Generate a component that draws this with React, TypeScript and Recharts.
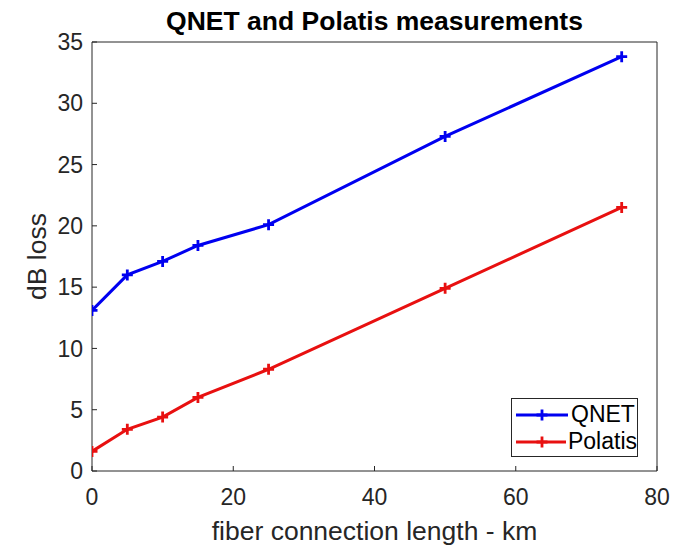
import React from "react";
import { LineChart, Line, XAxis, YAxis, Legend } from "recharts";

// fiber length (km) and measured loss (dB)
const distanceKm = [0, 5, 10, 15, 25, 50, 75];
const qnetLoss = [13.1, 16.0, 17.1, 18.4, 20.1, 27.3, 33.8];
const polatisLoss = [1.6, 3.4, 4.4, 6.0, 8.3, 14.9, 21.5];

const xTicks = [0, 20, 40, 60, 80];
const yTicks = [0, 5, 10, 15, 20, 25, 30, 35];
const seriesNames = ["QNET", "Polatis"];
const seriesKeys = ["qnet", "polatis"];
const seriesColors = ["#0000f0", "#e81010"];

const data = distanceKm.map((km, i) => ({
  km,
  qnet: qnetLoss[i],
  polatis: polatisLoss[i],
}));

const AXIS = "#262626";
const FONT = "'Liberation Sans', Arial, Helvetica, sans-serif";

// MATLAB style "+" marker
const plusDot = (color: string) => (props: any) => {
  const { cx, cy, index } = props;
  if (cx == null || cy == null) return <g key={index} />;
  return (
    <path
      key={index}
      d={`M${cx - 5.5} ${cy}H${cx + 5.5}M${cx} ${cy - 5.5}V${cy + 5.5}`}
      stroke={color}
      strokeWidth={2.8}
      fill="none"
    />
  );
};

const renderLegend = () => (
  <div
    style={{
      border: `1px solid ${AXIS}`,
      background: "#fff",
      width: 127,
      height: 59,
      boxSizing: "border-box",
      padding: "2px 0 0 3px",
      fontFamily: FONT,
    }}
  >
    {seriesNames.map((name, i) => (
      <div key={name} style={{ display: "flex", alignItems: "center", height: 27 }}>
        <svg width={54} height={14} style={{ display: "block" }}>
          <line x1={1} y1={7} x2={53} y2={7} stroke={seriesColors[i]} strokeWidth={3} />
          <path d="M27 1.5V12.5M21.5 7H32.5" stroke={seriesColors[i]} strokeWidth={2.8} />
        </svg>
        <span style={{ fontSize: 23, marginLeft: 2, color: "#000", lineHeight: "27px" }}>{name}</span>
      </div>
    ))}
  </div>
);

const YLabel = (props: any) => {
  const vb = props.viewBox || { x: 0, y: 0, width: 0, height: 0 };
  const x = vb.x + 37;
  const y = vb.y + vb.height / 2;
  return (
    <text
      x={x}
      y={y}
      transform={`rotate(-90 ${x} ${y})`}
      textAnchor="middle"
      dominantBaseline="central"
      fill={AXIS}
      fontSize={26.5}
      fontFamily={FONT}
    >
      dB loss
    </text>
  );
};

export default function App() {
  return (
    <div
      style={{
        position: "absolute",
        left: 0,
        top: 0,
        width: 674,
        height: 547,
        background: "#fff",
        fontFamily: FONT,
      }}
    >
      <div
        style={{
          position: "absolute",
          top: 8,
          left: 92,
          width: 565,
          textAlign: "center",
          fontSize: 26.5,
          lineHeight: "26px",
          fontWeight: "bold",
          color: "#000",
          zIndex: 2,
        }}
      >
        QNET and Polatis measurements
      </div>
      <LineChart
        width={674}
        height={547}
        data={data}
        margin={{ top: 42, right: 17, left: 0, bottom: 0 }}
      >
        <XAxis
          dataKey="km"
          type="number"
          domain={[0, 80]}
          ticks={xTicks}
          allowDataOverflow
          height={76}
          axisLine={{ stroke: AXIS }}
          tickLine={{ stroke: AXIS }}
          tickSize={-5}
          tickMargin={23}
          tick={{ fill: AXIS, fontSize: 23 }}
          label={{
            value: "fiber connection length - km",
            position: "insideBottom",
            offset: 7,
            fill: AXIS,
            fontSize: 26.5,
          }}
        />
        <XAxis
          xAxisId="top"
          orientation="top"
          type="number"
          domain={[0, 80]}
          ticks={xTicks}
          allowDataOverflow
          mirror
          tick={false}
          tickSize={5}
          axisLine={{ stroke: AXIS }}
          tickLine={{ stroke: AXIS }}
        />
        <YAxis
          type="number"
          domain={[0, 35]}
          ticks={yTicks}
          allowDataOverflow
          width={92}
          axisLine={{ stroke: AXIS }}
          tickLine={{ stroke: AXIS }}
          tickSize={-5}
          tickMargin={14}
          tick={{ fill: AXIS, fontSize: 23 }}
          label={{ content: YLabel }}
        />
        <YAxis
          yAxisId="right"
          orientation="right"
          type="number"
          domain={[0, 35]}
          ticks={yTicks}
          allowDataOverflow
          mirror
          tick={false}
          tickSize={5}
          axisLine={{ stroke: AXIS }}
          tickLine={{ stroke: AXIS }}
        />
        <Legend
          layout="vertical"
          align="center"
          verticalAlign="middle"
          content={renderLegend}
          wrapperStyle={{ left: 511, top: 398, width: 127, height: 59 }}
        />
        {seriesKeys.map((key, i) => (
          <Line
            key={key}
            dataKey={key}
            name={seriesNames[i]}
            type="linear"
            stroke={seriesColors[i]}
            strokeWidth={3}
            dot={plusDot(seriesColors[i])}
            activeDot={false}
            isAnimationActive={false}
          />
        ))}
      </LineChart>
    </div>
  );
}
